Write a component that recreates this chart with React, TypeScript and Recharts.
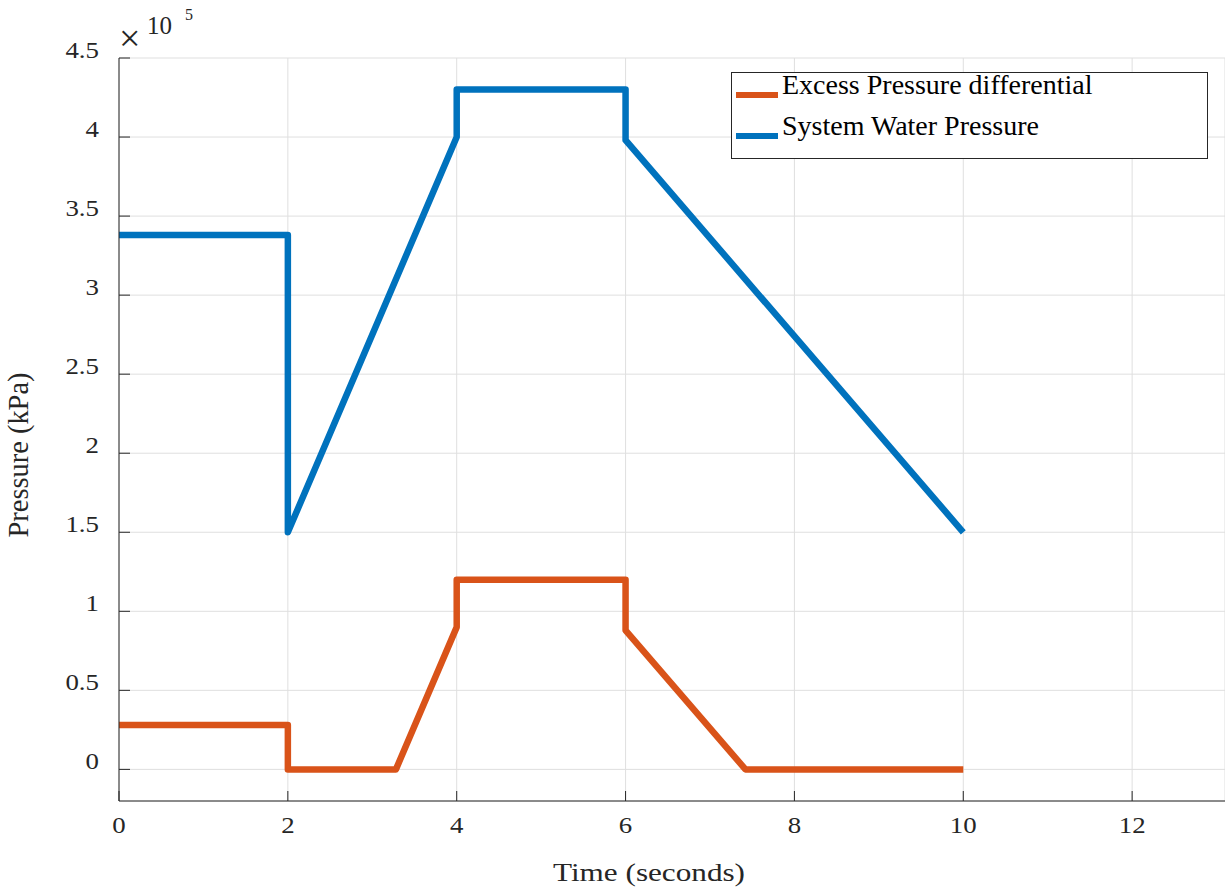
import { LineChart, Line, XAxis, YAxis, CartesianGrid, Legend } from "recharts";

const excessTime = [0, 2, 2, 3.28, 4, 4, 6, 6, 7.42, 10];
const excessPressure = [28000, 28000, 0, 0, 90000, 120000, 120000, 88000, 0, 0];

const waterTime = [0, 2, 2, 4, 4, 6, 6, 10];
const waterPressure = [338000, 338000, 150000, 400000, 430000, 430000, 398000, 150000];

const xTicks = [0, 2, 4, 6, 8, 10, 12];
const yTicks = [0, 50000, 100000, 150000, 200000, 250000, 300000, 350000, 400000, 450000];

const seriesNames = ["Excess Pressure differential", "System Water Pressure"];
const seriesColors = ["#D95319", "#0072BD"];

const FONT = '"Liberation Serif", "Times New Roman", serif';
const INK = "#262626";

const excessData = excessTime.map((t, i) => ({ t, p: excessPressure[i] }));
const waterData = waterTime.map((t, i) => ({ t, p: waterPressure[i] }));

const YTick = ({ x, y, payload }: any) => (
  <g>
    <line x1={x} x2={x + 11} y1={y} y2={y} stroke={INK} />
    <text
      transform={`translate(${x - 20},${y}) scale(1.12,1)`}
      textAnchor="end"
      fontFamily={FONT}
      fontSize={24}
      fill={INK}
    >
      {String(payload.value / 1e5)}
    </text>
  </g>
);

const XTick = ({ x, y, payload }: any) => (
  <g>
    <line x1={x} x2={x} y1={y} y2={y - 10} stroke={INK} />
    <text
      transform={`translate(${x},${y + 32}) scale(1.12,1)`}
      textAnchor="middle"
      fontFamily={FONT}
      fontSize={24}
      fill={INK}
    >
      {payload.value}
    </text>
  </g>
);

const XLabel = ({ viewBox }: any) => (
  <text
    x={viewBox.x + viewBox.width / 2 - 23}
    y={viewBox.y + 80}
    textAnchor="middle"
    fontFamily={FONT}
    fontSize={25}
    textLength={192}
    lengthAdjust="spacingAndGlyphs"
    fill={INK}
  >
    Time (seconds)
  </text>
);

const YLabel = ({ viewBox }: any) => {
  const cx = viewBox.x + 28;
  const cy = viewBox.y + 397;
  return (
    <text
      x={cx}
      y={cy}
      transform={`rotate(-90, ${cx}, ${cy})`}
      textAnchor="middle"
      fontFamily={FONT}
      fontSize={29}
      textLength={165}
      lengthAdjust="spacingAndGlyphs"
      fill={INK}
    >
      Pressure (kPa)
    </text>
  );
};

const LegendBox = ({ payload }: any) => (
  <svg width={478} height={88} style={{ overflow: "visible" }}>
    <rect x={0.5} y={0.5} width={476} height={86} fill="#fff" stroke={INK} />
    {(payload || []).map((entry: any, i: number) => (
      <g key={entry.value}>
        <line x1={5} x2={47} y1={23 + i * 41} y2={23 + i * 41} stroke={entry.color} strokeWidth={6} />
        <text x={51} y={22 + i * 41} fontFamily={FONT} fontSize={28} fill="#000">
          {entry.value}
        </text>
      </g>
    ))}
  </svg>
);

export default function App() {
  return (
    <div style={{ position: "absolute", left: 0, top: 0, width: 1225, height: 892, background: "#fff" }}>
      <LineChart width={1225} height={892} margin={{ top: 58, right: 0, bottom: 0, left: 0 }}>
        <CartesianGrid stroke="#dfdfdf" />
        <XAxis
          dataKey="t"
          type="number"
          domain={[0, 13.1]}
          ticks={xTicks}
          interval={0}
          height={91}
          allowDataOverflow
          tickSize={0}
          tickMargin={0}
          tick={<XTick />}
          axisLine={{ stroke: INK }}
          label={<XLabel />}
        />
        <YAxis
          type="number"
          domain={[-20000, 450000]}
          ticks={yTicks}
          interval={0}
          width={119}
          allowDataOverflow
          tickSize={0}
          tickMargin={0}
          tick={<YTick />}
          axisLine={{ stroke: INK }}
          label={<YLabel />}
        />
        <Legend
          layout="vertical"
          align="center"
          verticalAlign="middle"
          content={<LegendBox />}
          wrapperStyle={{ position: "absolute", left: 731, top: 72, width: 478, height: 88 }}
        />
        <Line
          data={excessData}
          dataKey="p"
          name={seriesNames[0]}
          stroke={seriesColors[0]}
          strokeWidth={6.5}
          strokeLinejoin="round"
          dot={false}
          activeDot={false}
          isAnimationActive={false}
        />
        <Line
          data={waterData}
          dataKey="p"
          name={seriesNames[1]}
          stroke={seriesColors[1]}
          strokeWidth={6.5}
          strokeLinejoin="round"
          dot={false}
          activeDot={false}
          isAnimationActive={false}
        />
      </LineChart>
      <svg
        width={220}
        height={60}
        style={{ position: "absolute", left: 0, top: 0, pointerEvents: "none" }}
      >
        <text x={119} y={51} fontFamily={FONT} fontSize={38} fill={INK}>
          ×
        </text>
        <text x={147} y={34} fontFamily={FONT} fontSize={25} fill={INK}>
          10
        </text>
        <text x={185} y={20} fontFamily={FONT} fontSize={16} fill={INK}>
          5
        </text>
      </svg>
    </div>
  );
}
